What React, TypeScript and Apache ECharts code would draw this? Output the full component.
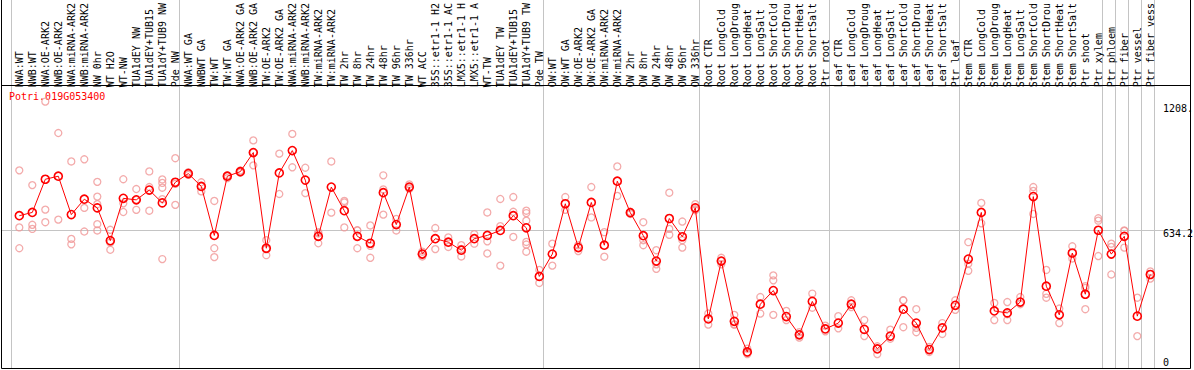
import React, { useEffect, useRef } from "react";
import * as echarts from "echarts";

const geneId = "Potri.019G053400";

const categories = [
  "NWA:WT", "NWB:WT", "NWA:OE-ARK2", "NWB:OE-ARK2", "NWA:miRNA-ARK2", "NWB:miRNA-ARK2", "NW 0hr", "WT H2O", "WT-NW",
  "TUA1dEY NW", "TUA1dEY+TUB15", "TUA1dY+TUB9 NW", "Pde NW",
  "NWA:WT GA", "NWBWT GA", "TW:WT", "TW:WT GA", "NWA:OE-ARK2 GA", "NWB:OE-ARK2 GA", "TW:OE-ARK2", "TW:OE-ARK2 GA",
  "NWA:miRNA-ARK2", "NWB:miRNA-ARK2", "TW:miRNA-ARK2", "TW:miRNA-ARK2", "TW 2hr", "TW 8hr", "TW 24hr", "TW 48hr",
  "TW 96hr", "TW 336hr", "WT ACC", "35S::etr1-1 H2", "35S::etr1-1 AC", "LMX5::etr1-1 H", "LMX5::etr1-1 A", "WT-TW",
  "TUA1dEY TW", "TUA1dEY+TUB15", "TUA1dY+TUB9 TW", "Pde TW",
  "OW:WT", "OW:WT GA", "OW:OE-ARK2", "OW:OE-ARK2 GA", "OW:miRNA-ARK2", "OW:miRNA-ARK2", "OW 2hr", "OW 8hr", "OW 24hr",
  "OW 48hr", "OW 96hr", "OW 336hr",
  "Root CTR", "Root LongCold", "Root LongDroug", "Root LongHeat", "Root LongSalt", "Root ShortCold", "Root ShortDrou",
  "Root ShortHeat", "Root ShortSalt", "Ptr root",
  "Leaf CTR", "Leaf LongCold", "Leaf LongDroug", "Leaf LongHeat", "Leaf LongSalt", "Leaf ShortCold", "Leaf ShortDrou",
  "Leaf ShortHeat", "Leaf ShortSalt", "Ptr leaf",
  "Stem CTR", "Stem LongCold", "Stem LongDroug", "Stem LongHeat", "Stem LongSalt", "Stem ShortCold", "Stem ShortDrou",
  "Stem ShortHeat", "Stem ShortSalt", "Ptr shoot", "Ptr xylem",
  "Ptr phloem", "Ptr fiber", "Ptr vessel", "Ptr fiber vess",
];

const meanValues = [
  702, 717, 870, 884, 707, 778, 738, 587, 782, 775, 820, 761, 856,
  896, 837, 611, 884, 905, 993, 552, 899, 1002, 866, 607, 834, 725, 607, 575, 808, 661, 834, 525, 596, 580, 543, 596,
  611, 634, 702, 646, 422,
  525, 757, 555, 763, 566, 861, 716, 610, 493, 689, 605, 738,
  226, 493, 215, 74, 294, 357, 237, 153, 307, 180,
  207, 294, 178, 88, 147, 271, 207, 85, 185, 289,
  502, 717, 263, 254, 304, 790, 377, 245, 530, 340, 635,
  525, 607, 239, 431,
];

const replicateValues = [
  [911, 648, 552], [843, 660, 641], [1228, 730, 672], [1083, 684], [952, 595, 570], [962, 738, 629],
  [858, 790, 755, 663, 634], [637, 579, 545], [870, 759, 719], [825, 775, 729], [906, 834, 725],
  [869, 853, 831, 778, 502], [967, 849, 752],
  [902, 896, 890], [856, 837, 814], [770, 552, 511], [888, 884, 875], [910, 905, 900], [1049, 993, 934],
  [589, 547, 520], [988, 802], [1079, 925], [923, 806], [626, 620, 575], [952, 716], [770, 763, 648],
  [635, 634, 552], [657, 563, 508], [888, 823, 707], [687, 634], [846, 831, 825], [536, 525, 514],
  [645, 548], [602, 580, 558], [566, 549, 514], [617, 573], [717, 584, 528], [779, 654, 472],
  [788, 720, 604], [725, 714, 679, 581, 569, 536], [452, 392],
  [573, 472], [788, 729], [566, 539], [834, 694], [626, 513], [929, 793], [720, 710], [672, 589, 566],
  [543, 478, 457], [808, 641, 614], [675, 589, 555], [755, 732, 727],
  [251, 200], [508, 493, 478], [245, 201, 200], [89, 70, 64], [327, 251], [427, 404, 245], [263, 221],
  [165, 153, 140], [343, 278], [195, 169],
  [239, 183], [312, 281], [221, 147], [100, 64], [177, 135], [312, 312, 188], [271, 185, 165], [97, 74],
  [207, 157], [312, 268],
  [580, 481, 448], [761, 667], [300, 221], [304, 248, 221], [327, 294], [834, 816, 710], [452, 342, 324],
  [274, 207], [561, 505], [377, 369, 271], [690, 679, 516],
  [573, 558, 431], [634, 632, 555], [324, 147], [445, 412],
];

const yTickValues = [1208, 634.2, 0];
const yTickLabels = ["1208.", "634.2", "0"];
const yGridValues = [634.2];
// number of categories before each vertical group separator
const groupBreaks = [0, 13, 41, 53, 63, 73, 84, 85, 86, 87, 88];

const FONT = "'DejaVu Sans Mono', 'Liberation Mono', monospace";
const W = 1194;
const H = 370;
const FRAME_LEFT = 1.5;
const FRAME_RIGHT = 1190.5;
const PLOT_TOP = 85.5;
const PLOT_BOTTOM = 368.5;

export default function App() {
  const ref = useRef<HTMLDivElement>(null);

  useEffect(() => {
    document.body.style.margin = "0";
    const chart = echarts.init(ref.current as HTMLDivElement, null, { renderer: "svg" });

    const scatterData: number[][] = [];
    replicateValues.forEach((reps, i) => reps.forEach((v) => scatterData.push([i, v])));

    chart.setOption({
      animation: false,
      grid: { left: 12.8, right: W - 1156.8, top: 86, bottom: 2, containLabel: false },
      xAxis: {
        type: "category",
        position: "top",
        data: categories,
        boundaryGap: true,
        axisLine: { show: false },
        axisTick: { show: false },
        splitLine: { show: false },
        axisLabel: {
          interval: 0,
          rotate: 90,
          margin: 3,
          fontFamily: FONT,
          fontSize: 10,
          color: "#000",
        },
      },
      yAxis: {
        type: "value",
        min: 0,
        max: 1280,
        show: false,
        splitLine: { show: false },
      },
      series: [
        {
          type: "scatter",
          name: "replicates",
          data: scatterData,
          symbol: "circle",
          symbolSize: 7,
          itemStyle: { color: "rgba(255,255,255,0)", borderColor: "#f09696", borderWidth: 1.3 },
          z: 2,
          silent: true,
        },
        {
          type: "line",
          name: "mean",
          data: meanValues,
          symbol: "circle",
          symbolSize: 8,
          itemStyle: { color: "rgba(255,255,255,0)", borderColor: "#ff0000", borderWidth: 1.6 },
          lineStyle: { color: "#ff0000", width: 1 },
          z: 3,
          silent: true,
        },
      ],
    });

    const c0 = chart.convertToPixel({ xAxisIndex: 0 }, 0) as number;
    const c1 = chart.convertToPixel({ xAxisIndex: 0 }, 1) as number;
    const band = c1 - c0;
    const crisp = (v: number) => Math.round(v - 0.5) + 0.5;

    const graphics: any[] = [];
    groupBreaks.forEach((b) => {
      const x = crisp(c0 + band * b - 8.3);
      graphics.push({
        type: "line",
        z: 0,
        shape: { x1: x, y1: 0, x2: x, y2: PLOT_BOTTOM },
        style: { stroke: "#c4c4c4", lineWidth: 1 },
      });
    });
    yGridValues.forEach((v) => {
      const y = crisp(chart.convertToPixel({ yAxisIndex: 0 }, v) as number);
      graphics.push({
        type: "line",
        z: 0,
        shape: { x1: FRAME_LEFT, y1: y, x2: FRAME_RIGHT, y2: y },
        style: { stroke: "#c4c4c4", lineWidth: 1 },
      });
    });
    // frame
    graphics.push(
      { type: "line", z: 1, shape: { x1: FRAME_LEFT, y1: 0, x2: FRAME_LEFT, y2: PLOT_BOTTOM }, style: { stroke: "#000", lineWidth: 1 } },
      { type: "line", z: 1, shape: { x1: FRAME_RIGHT, y1: 0, x2: FRAME_RIGHT, y2: PLOT_BOTTOM }, style: { stroke: "#000", lineWidth: 1 } },
      { type: "line", z: 1, shape: { x1: FRAME_LEFT, y1: PLOT_TOP, x2: FRAME_RIGHT, y2: PLOT_TOP }, style: { stroke: "#000", lineWidth: 1 } },
      { type: "line", z: 1, shape: { x1: FRAME_LEFT, y1: PLOT_BOTTOM, x2: FRAME_RIGHT, y2: PLOT_BOTTOM }, style: { stroke: "#000", lineWidth: 1 } }
    );
    yTickValues.forEach((v, i) => {
      const y = chart.convertToPixel({ yAxisIndex: 0 }, v) as number;
      graphics.push({
        type: "text",
        z: 1,
        x: 1163,
        y: v === 0 ? y - 1 : y - 2,
        style: {
          text: yTickLabels[i],
          fill: "#000",
          font: `10px ${FONT}`,
          align: "left",
          verticalAlign: v === 0 ? "bottom" : "top",
        },
      });
    });
    graphics.push({
      type: "text",
      z: 1,
      x: 9,
      y: 91,
      style: { text: geneId, fill: "#ff0000", font: `10px ${FONT}`, align: "left", verticalAlign: "top" },
    });

    chart.setOption({ graphic: graphics });

    return () => chart.dispose();
  }, []);

  return <div ref={ref} style={{ width: W, height: H }} />;
}
